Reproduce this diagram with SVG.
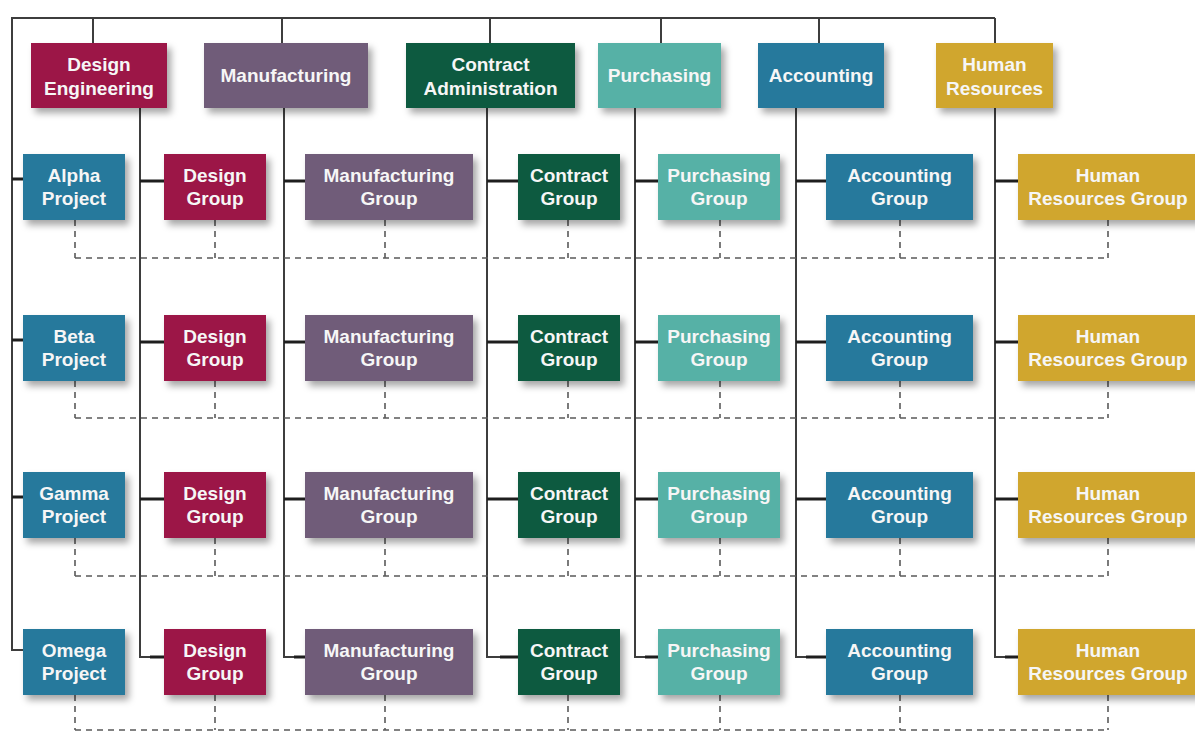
<svg xmlns="http://www.w3.org/2000/svg" width="1195" height="731" viewBox="0 0 1195 731">
<style>
.t{font-family:"Liberation Sans",Arial,sans-serif;font-weight:bold;font-size:19px;fill:#f6f6f6;text-anchor:middle}
.ln{fill:none;stroke:#3d3d3d;stroke-width:2}
.stub{fill:none;stroke:#1e1e1e;stroke-width:3}
.dash{fill:none;stroke:#5a5a5a;stroke-width:1.6;stroke-dasharray:6 5}
.b{filter:url(#sh)}
.de{fill:#9c1447}.mf{fill:#6f5c79}.ca{fill:#0d5a3f}.pu{fill:#57b1a6}.ac{fill:#27799c}.hr{fill:#d0a62e}
</style>
<defs>
<filter id="sh" x="-20%" y="-20%" width="150%" height="160%">
<feDropShadow dx="4" dy="5" stdDeviation="3.5" flood-color="#000" flood-opacity="0.35"/>
</filter>
</defs>
<rect width="1195" height="731" fill="#fff"/>
<g id="connectors">
<path class="ln" d="M11 18H995M93 18V43M282 18V43M490 18V43M661 18V43M819 18V43M995 18V43"/>
<path class="ln" d="M12 18V650H23"/>
<path class="stub" d="M12 179H23M12 340H23M12 497H23"/>
<path class="ln" d="M140 108V657H164M284 108V657H305M487 108V657H518M635 108V657H658M796 108V657H826M995 108V657H1018"/>
<path class="stub" d="M140 181H164M284 181H305M487 181H518M635 181H658M796 181H826M995 181H1018"/>
<path class="stub" d="M140 342H164M284 342H305M487 342H518M635 342H658M796 342H826M995 342H1018"/>
<path class="stub" d="M140 499H164M284 499H305M487 499H518M635 499H658M796 499H826M995 499H1018"/>
<path class="stub" d="M150 657H164M294 657H305M500 657H518M645 657H658M806 657H826M1005 657H1018"/>
<path class="dash" d="M75 220V258M215 220V258M385 220V258M568 220V258M720 220V258M900 220V258M1108 220V258M75 258H1108"/>
<path class="dash" d="M75 381V418M215 381V418M385 381V418M568 381V418M720 381V418M900 381V418M1108 381V418M75 418H1108"/>
<path class="dash" d="M75 538V576M215 538V576M385 538V576M568 538V576M720 538V576M900 538V576M1108 538V576M75 576H1108"/>
<path class="dash" d="M75 695V730M215 695V730M385 695V730M568 695V730M720 695V730M900 695V730M1108 695V730M75 730H1108"/>
</g>
<g id="head-design-engineering"><rect class="b de" x="31" y="43" width="136" height="65"/><text class="t"><tspan x="99" y="71">Design</tspan><tspan x="99" y="95">Engineering</tspan></text></g>
<g id="head-manufacturing"><rect class="b mf" x="204" y="43" width="164" height="65"/><text class="t" x="286" y="82">Manufacturing</text></g>
<g id="head-contract-administration"><rect class="b ca" x="406" y="43" width="169" height="65"/><text class="t"><tspan x="490.5" y="71">Contract</tspan><tspan x="490.5" y="95">Administration</tspan></text></g>
<g id="head-purchasing"><rect class="b pu" x="598" y="43" width="123" height="65"/><text class="t" x="659.5" y="82">Purchasing</text></g>
<g id="head-accounting"><rect class="b ac" x="758" y="43" width="126" height="65"/><text class="t" x="821" y="82">Accounting</text></g>
<g id="head-human-resources"><rect class="b hr" x="936" y="43" width="117" height="65"/><text class="t"><tspan x="994.5" y="71">Human</tspan><tspan x="994.5" y="95">Resources</tspan></text></g>

<g id="alpha-project"><rect class="b ac" x="23" y="154" width="102" height="66"/><text class="t"><tspan x="74" y="182">Alpha</tspan><tspan x="74" y="205">Project</tspan></text></g>
<g id="alpha-design"><rect class="b de" x="164" y="154" width="102" height="66"/><text class="t"><tspan x="215" y="182">Design</tspan><tspan x="215" y="205">Group</tspan></text></g>
<g id="alpha-manufacturing"><rect class="b mf" x="305" y="154" width="168" height="66"/><text class="t"><tspan x="389" y="182">Manufacturing</tspan><tspan x="389" y="205">Group</tspan></text></g>
<g id="alpha-contract"><rect class="b ca" x="518" y="154" width="102" height="66"/><text class="t"><tspan x="569" y="182">Contract</tspan><tspan x="569" y="205">Group</tspan></text></g>
<g id="alpha-purchasing"><rect class="b pu" x="658" y="154" width="122" height="66"/><text class="t"><tspan x="719" y="182">Purchasing</tspan><tspan x="719" y="205">Group</tspan></text></g>
<g id="alpha-accounting"><rect class="b ac" x="826" y="154" width="147" height="66"/><text class="t"><tspan x="899.5" y="182">Accounting</tspan><tspan x="899.5" y="205">Group</tspan></text></g>
<g id="alpha-hr"><rect class="b hr" x="1018" y="154" width="185" height="66"/><text class="t"><tspan x="1108" y="182">Human</tspan><tspan x="1108" y="205">Resources Group</tspan></text></g>

<g id="beta-project"><rect class="b ac" x="23" y="315" width="102" height="66"/><text class="t"><tspan x="74" y="343">Beta</tspan><tspan x="74" y="366">Project</tspan></text></g>
<g id="beta-design"><rect class="b de" x="164" y="315" width="102" height="66"/><text class="t"><tspan x="215" y="343">Design</tspan><tspan x="215" y="366">Group</tspan></text></g>
<g id="beta-manufacturing"><rect class="b mf" x="305" y="315" width="168" height="66"/><text class="t"><tspan x="389" y="343">Manufacturing</tspan><tspan x="389" y="366">Group</tspan></text></g>
<g id="beta-contract"><rect class="b ca" x="518" y="315" width="102" height="66"/><text class="t"><tspan x="569" y="343">Contract</tspan><tspan x="569" y="366">Group</tspan></text></g>
<g id="beta-purchasing"><rect class="b pu" x="658" y="315" width="122" height="66"/><text class="t"><tspan x="719" y="343">Purchasing</tspan><tspan x="719" y="366">Group</tspan></text></g>
<g id="beta-accounting"><rect class="b ac" x="826" y="315" width="147" height="66"/><text class="t"><tspan x="899.5" y="343">Accounting</tspan><tspan x="899.5" y="366">Group</tspan></text></g>
<g id="beta-hr"><rect class="b hr" x="1018" y="315" width="185" height="66"/><text class="t"><tspan x="1108" y="343">Human</tspan><tspan x="1108" y="366">Resources Group</tspan></text></g>

<g id="gamma-project"><rect class="b ac" x="23" y="472" width="102" height="66"/><text class="t"><tspan x="74" y="500">Gamma</tspan><tspan x="74" y="523">Project</tspan></text></g>
<g id="gamma-design"><rect class="b de" x="164" y="472" width="102" height="66"/><text class="t"><tspan x="215" y="500">Design</tspan><tspan x="215" y="523">Group</tspan></text></g>
<g id="gamma-manufacturing"><rect class="b mf" x="305" y="472" width="168" height="66"/><text class="t"><tspan x="389" y="500">Manufacturing</tspan><tspan x="389" y="523">Group</tspan></text></g>
<g id="gamma-contract"><rect class="b ca" x="518" y="472" width="102" height="66"/><text class="t"><tspan x="569" y="500">Contract</tspan><tspan x="569" y="523">Group</tspan></text></g>
<g id="gamma-purchasing"><rect class="b pu" x="658" y="472" width="122" height="66"/><text class="t"><tspan x="719" y="500">Purchasing</tspan><tspan x="719" y="523">Group</tspan></text></g>
<g id="gamma-accounting"><rect class="b ac" x="826" y="472" width="147" height="66"/><text class="t"><tspan x="899.5" y="500">Accounting</tspan><tspan x="899.5" y="523">Group</tspan></text></g>
<g id="gamma-hr"><rect class="b hr" x="1018" y="472" width="185" height="66"/><text class="t"><tspan x="1108" y="500">Human</tspan><tspan x="1108" y="523">Resources Group</tspan></text></g>

<g id="omega-project"><rect class="b ac" x="23" y="629" width="102" height="66"/><text class="t"><tspan x="74" y="657">Omega</tspan><tspan x="74" y="680">Project</tspan></text></g>
<g id="omega-design"><rect class="b de" x="164" y="629" width="102" height="66"/><text class="t"><tspan x="215" y="657">Design</tspan><tspan x="215" y="680">Group</tspan></text></g>
<g id="omega-manufacturing"><rect class="b mf" x="305" y="629" width="168" height="66"/><text class="t"><tspan x="389" y="657">Manufacturing</tspan><tspan x="389" y="680">Group</tspan></text></g>
<g id="omega-contract"><rect class="b ca" x="518" y="629" width="102" height="66"/><text class="t"><tspan x="569" y="657">Contract</tspan><tspan x="569" y="680">Group</tspan></text></g>
<g id="omega-purchasing"><rect class="b pu" x="658" y="629" width="122" height="66"/><text class="t"><tspan x="719" y="657">Purchasing</tspan><tspan x="719" y="680">Group</tspan></text></g>
<g id="omega-accounting"><rect class="b ac" x="826" y="629" width="147" height="66"/><text class="t"><tspan x="899.5" y="657">Accounting</tspan><tspan x="899.5" y="680">Group</tspan></text></g>
<g id="omega-hr"><rect class="b hr" x="1018" y="629" width="185" height="66"/><text class="t"><tspan x="1108" y="657">Human</tspan><tspan x="1108" y="680">Resources Group</tspan></text></g>
</svg>
